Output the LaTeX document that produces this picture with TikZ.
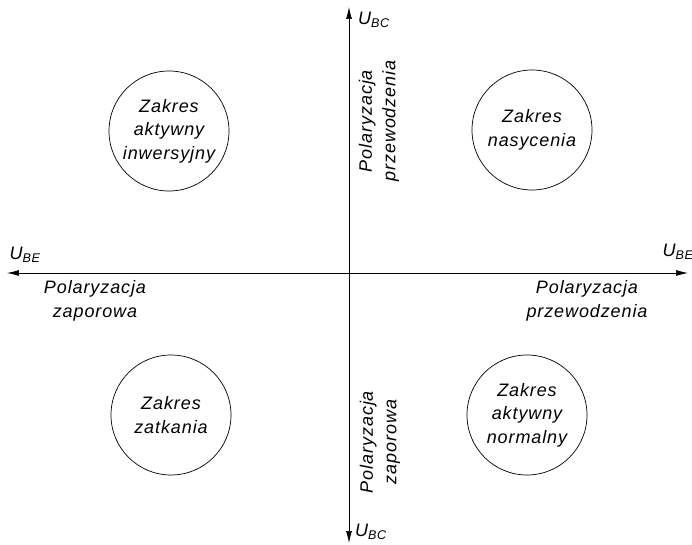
\documentclass[tikz,border=0pt]{standalone}
\usepackage{fontspec}
\setmainfont{Liberation Sans}[LetterSpace=5]
\usetikzlibrary{positioning,arrows.meta}

\tikzset{
  zakres/.style={circle, draw, line width=0.7pt, minimum size=120pt, inner sep=0pt, align=center},
  opis/.style={align=center},
  os/.style={{Latex[length=12pt,width=6pt]}-{Latex[length=12pt,width=6pt]}, line width=0.7pt},
}

\begin{document}
\begin{tikzpicture}[x=1pt,y=1pt,node distance=142pt and 180pt,on grid,
  font=\fontsize{18}{23.5}\selectfont\itshape]
\useasboundingbox (-349,-272) rectangle (343,273);
\coordinate (O) at (0,0);
\coordinate (be_l) at (-342,0);
\coordinate (be_r) at (339,0);
\coordinate (bc_t) at (0,266);
\coordinate (bc_b) at (0,-270);

% osie napiec
\draw[os] (be_l) -- (be_r);
\draw[os] (bc_b) -- (bc_t);

\node (ubc_t) [below right=13pt and 25pt of bc_t, anchor=center] {U\textsubscript{BC}};
\node (ubc_b) [above right=11pt and 22pt of bc_b, anchor=center] {U\textsubscript{BC}};
\node (ube_l) [above right=18pt and 18pt of be_l, anchor=center] {U\textsubscript{BE}};
\node (ube_r) [above left=21pt and 10pt of be_r, anchor=center] {U\textsubscript{BE}};

% zakresy pracy
\node[zakres] (z_ai) [above left=of O, anchor=center] {Zakres\\aktywny\\inwersyjny};
\node[zakres] (z_n) [above right=143pt and 183pt of O, anchor=center] {Zakres\\nasycenia};
\node[zakres] (z_z) [below left=142pt and 178pt of O, anchor=center] {Zakres\\zatkania};
\node[zakres] (z_an) [below right=142pt and 178pt of O, anchor=center] {Zakres\\aktywny\\normalny};

% polaryzacja zlaczy
\node[opis, rotate=90] (p_bc_t) [above right=152pt and 30pt of O, anchor=center] {Polaryzacja\\przewodzenia};
\node[opis, rotate=90] (p_bc_b) [below right=169pt and 31pt of O, anchor=center] {Polaryzacja\\zaporowa};
\node[opis] (p_be_l) [below left=28pt and 254pt of O, anchor=center] {Polaryzacja\\zaporowa};
\node[opis] (p_be_r) [below right=28pt and 238pt of O, anchor=center] {Polaryzacja\\przewodzenia};
\end{tikzpicture}
\end{document}
